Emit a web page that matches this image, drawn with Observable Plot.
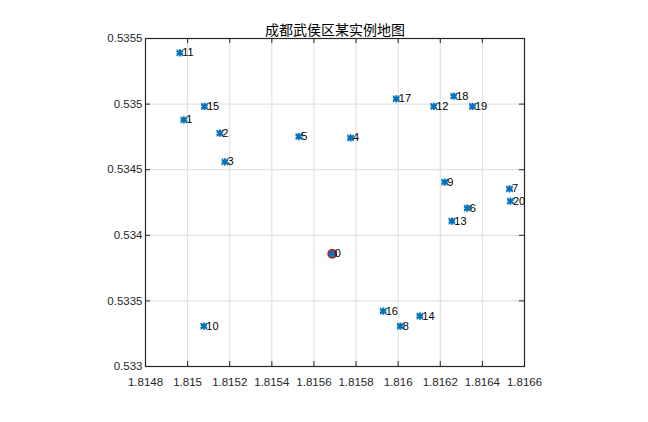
<!DOCTYPE html>
<html>
<head>
<meta charset="utf-8">
<script src="https://cdn.jsdelivr.net/npm/d3@7"></script>
<script src="https://cdn.jsdelivr.net/npm/@observablehq/plot@0.6"></script>
<style>
  html, body { margin: 0; padding: 0; background: #ffffff; }
  #chart svg { display: block; }
</style>
</head>
<body>
<div id="chart"></div>
<script>
const title = "成都武侯区某实例地图";
const ids = ["0","1","2","3","4","5","6","7","8","9","10","11","12","13","14","15","16","17","18","19","20"];
const xs = [1.815687, 1.814982, 1.815153, 1.815177, 1.815774, 1.815528, 1.816328, 1.816529, 1.816010, 1.816221, 1.815077,
            1.814963, 1.816169, 1.816255, 1.816103, 1.815080, 1.815929, 1.815991, 1.816264, 1.816353, 1.816533];
const ys = [0.533859, 0.534880, 0.534778, 0.534560, 0.534743, 0.534753, 0.534207, 0.534354, 0.533307, 0.534405, 0.533307,
            0.535391, 0.534982, 0.534108, 0.533384, 0.534982, 0.533422, 0.535040, 0.535060, 0.534982, 0.534260];
const xTicks = [1.8148, 1.815, 1.8152, 1.8154, 1.8156, 1.8158, 1.816, 1.8162, 1.8164, 1.8166];
const xTickLabels = ["1.8148","1.815","1.8152","1.8154","1.8156","1.8158","1.816","1.8162","1.8164","1.8166"];
const yTicks = [0.533, 0.5335, 0.534, 0.5345, 0.535, 0.5355];
const yTickLabels = ["0.533","0.5335","0.534","0.5345","0.535","0.5355"];
const startId = "0";

const pts = ids.map((id, i) => ({id, x: xs[i], y: ys[i]}));
const start = pts.filter(d => d.id === startId);

const W = 648, H = 422;
const mL = 145, mR = 124, mT = 38, mB = 56;
const pw = W - mL - mR, ph = H - mT - mB;
const tick = 5;
const axisColor = "#262626";
const font = "'Liberation Sans', Arial, Helvetica, sans-serif";

const chart = Plot.plot({
  width: W, height: H,
  marginLeft: mL, marginRight: mR, marginTop: mT, marginBottom: mB,
  style: {fontFamily: font, background: "#ffffff", overflow: "visible"},
  x: {domain: [1.8148, 1.8166], label: null},
  y: {domain: [0.533, 0.5355], label: null},
  marks: [
    Plot.gridX(xTicks, {stroke: "#dcdcdc", strokeOpacity: 1, strokeWidth: 1}),
    Plot.gridY(yTicks, {stroke: "#dcdcdc", strokeOpacity: 1, strokeWidth: 1}),
    // inward ticks on all four sides
    Plot.ruleX(xTicks, {insetTop: ph - tick, stroke: axisColor}),
    Plot.ruleX(xTicks, {insetBottom: ph - tick, stroke: axisColor}),
    Plot.ruleY(yTicks, {insetRight: pw - tick, stroke: axisColor}),
    Plot.ruleY(yTicks, {insetLeft: pw - tick, stroke: axisColor}),
    Plot.frame({stroke: axisColor, strokeWidth: 1.2}),
    Plot.axisX(xTicks, {tickSize: 0, tickPadding: 11, fontSize: 11.5, fill: axisColor,
      tickFormat: d => xTickLabels[xTicks.indexOf(d)], label: null}),
    Plot.axisY(yTicks, {tickSize: 0, tickPadding: 3, fontSize: 11.5, fill: axisColor,
      tickFormat: d => yTickLabels[yTicks.indexOf(d)], label: null}),
    Plot.dot(start, {x: "x", y: "y", r: 4.3, symbol: "circle", fill: "#e01818", fillOpacity: 0.85, stroke: "#d00000", strokeWidth: 1.2}),
    Plot.dot(pts, {x: "x", y: "y", r: 3.4, symbol: "asterisk", stroke: "#0072BD", strokeWidth: 2}),
    Plot.dot(pts, {x: "x", y: "y", r: 3.0, symbol: "times", stroke: "#0072BD", strokeWidth: 1.2}),
    Plot.text(pts, {x: "x", y: "y", text: "id", textAnchor: "start", dx: 2.5, fontSize: 11, fill: "#000000", lineAnchor: "middle"}),
    Plot.text([title], {frameAnchor: "top", dy: -4, lineAnchor: "bottom", fontSize: 14, fill: "#000000",
      fontFamily: "'Noto Sans CJK SC', sans-serif"})
  ]
});
document.getElementById("chart").appendChild(chart);
</script>
</body>
</html>
